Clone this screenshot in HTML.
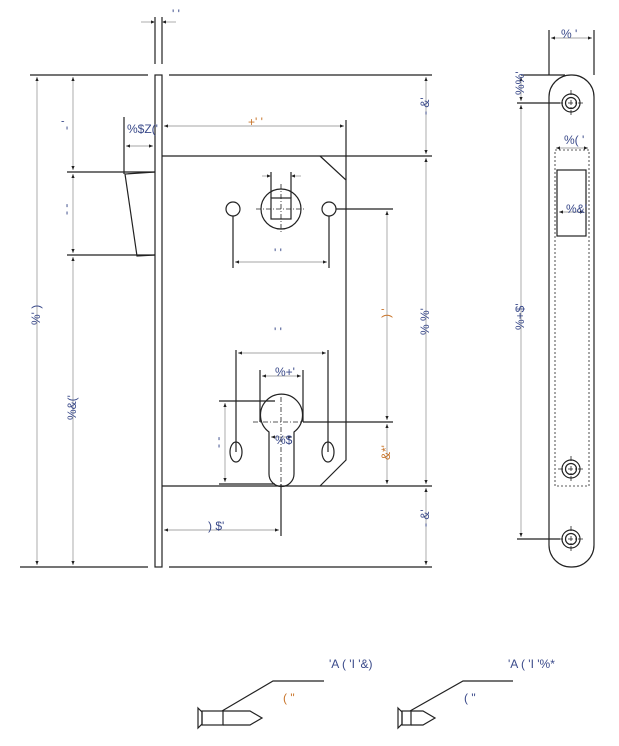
<!DOCTYPE html>
<html><head><meta charset="utf-8"><style>
html,body{margin:0;padding:0;background:#fff;}
svg{display:block;}
text{font-family:"Liberation Sans",sans-serif;font-size:12px;fill:#3a4a8a;}
.o{fill:#c8742a;}
</style></head><body>
<svg width="619" height="746" viewBox="0 0 619 746" xmlns="http://www.w3.org/2000/svg">
<defs>
<marker id="a" viewBox="0 0 10 10" refX="10" refY="5" markerWidth="6" markerHeight="6" orient="auto-start-reverse"><path d="M0,1 L10,5 L0,9 z" fill="#222"/></marker>
</defs>
<g stroke="#222" stroke-width="1.2" fill="none">
<!-- faceplate -->
<line x1="155" y1="17" x2="155" y2="64"/><line x1="162" y1="17" x2="162" y2="64"/>
<rect x="155" y="75" width="7" height="492"/>
<!-- top/bottom lines -->
<line x1="30" y1="75" x2="148" y2="75"/><line x1="169" y1="75" x2="432" y2="75"/>
<line x1="20" y1="567" x2="148" y2="567"/><line x1="169" y1="567" x2="432" y2="567"/>
<!-- case -->
<line x1="162" y1="156" x2="432" y2="156"/>
<line x1="162" y1="486" x2="432" y2="486"/>
<polyline points="320,156 346,180 346,460 320,486"/>
<line x1="346" y1="120" x2="346" y2="180"/>
<!-- latch -->
<line x1="67" y1="172" x2="155" y2="172"/><line x1="67" y1="255" x2="155" y2="255"/>
<polyline points="155,172 125,174 137,256 155,255"/>
<line x1="124" y1="117" x2="124" y2="174"/>
<!-- hub -->
<circle cx="281" cy="209" r="20"/>
<rect x="271" y="198" width="20" height="21"/>
<circle cx="233" cy="209" r="7"/><circle cx="329" cy="209" r="7"/>
<line x1="233" y1="216" x2="233" y2="268"/><line x1="329" y1="216" x2="329" y2="268"/>
<line x1="271" y1="172" x2="271" y2="198"/><line x1="291" y1="172" x2="291" y2="198"/>
<line x1="336" y1="209" x2="393" y2="209"/>
<!-- cylinder -->
<path d="M269,432 A21,21 0 1 1 294,432 L294,474 A12.5,12.5 0 0 1 269,474 Z"/>
<ellipse cx="236" cy="452" rx="6" ry="10"/><ellipse cx="328" cy="452" rx="6" ry="10"/>
<line x1="236" y1="350" x2="236" y2="452"/><line x1="328" y1="350" x2="328" y2="452"/>
<line x1="260" y1="370" x2="260" y2="422"/><line x1="303" y1="370" x2="303" y2="422"/>
<line x1="219" y1="401" x2="275" y2="401"/><line x1="219" y1="484" x2="275" y2="484"/>
<line x1="281" y1="484" x2="281" y2="536"/>
<line x1="303" y1="422" x2="393" y2="422"/>
<!-- strike plate -->
<rect x="549" y="75" width="45" height="492" rx="22"/>
<rect x="557" y="170" width="29" height="66"/>
<g><circle cx="571" cy="103" r="9"/><circle cx="571" cy="103" r="5.5"/>
<circle cx="571" cy="469" r="9"/><circle cx="571" cy="469" r="5.5"/>
<circle cx="571" cy="539" r="9"/><circle cx="571" cy="539" r="5.5"/></g>
<line x1="517" y1="103" x2="560" y2="103"/><line x1="517" y1="539" x2="560" y2="539"/>
<line x1="521" y1="75" x2="565" y2="75"/>
<line x1="549" y1="30" x2="549" y2="75"/><line x1="594" y1="30" x2="594" y2="75"/>
<!-- screws -->
<path d="M198,708 L202,712 L202,724 L198,728 Z"/><rect x="202" y="711" width="21" height="14"/>
<polyline points="223,711 250,711 262,718 250,725 223,725"/>
<polyline points="222,711 273,681 324,681"/>
<path d="M398,708 L402,712 L402,724 L398,728 Z"/><rect x="402" y="711" width="9" height="14"/>
<polyline points="411,711 423,711 435,718 423,725 411,725"/>
<polyline points="410,711 463,681 513,681"/>
</g>
<!-- centerlines & dashed -->
<g stroke="#222" stroke-width="0.8" fill="none" stroke-dasharray="5,2,1,2">
<line x1="256" y1="209" x2="306" y2="209"/><line x1="281" y1="184" x2="281" y2="234"/>
<line x1="253" y1="422" x2="308" y2="422"/><line x1="281" y1="397" x2="281" y2="486"/>
<line x1="558" y1="103" x2="584" y2="103"/><line x1="571" y1="90" x2="571" y2="116"/>
<line x1="558" y1="469" x2="584" y2="469"/><line x1="571" y1="456" x2="571" y2="482"/>
<line x1="558" y1="539" x2="584" y2="539"/><line x1="571" y1="526" x2="571" y2="552"/>
</g>
<rect x="555" y="150" width="34" height="336" fill="none" stroke="#222" stroke-width="0.8" stroke-dasharray="2,2"/>
<!-- dimension lines -->
<g stroke="#888" stroke-width="0.7" fill="none">
<line x1="37" y1="77" x2="37" y2="565" marker-start="url(#a)" marker-end="url(#a)"/>
<line x1="73" y1="77" x2="73" y2="170" marker-start="url(#a)" marker-end="url(#a)"/>
<line x1="73" y1="174" x2="73" y2="253" marker-start="url(#a)" marker-end="url(#a)"/>
<line x1="73" y1="257" x2="73" y2="565" marker-start="url(#a)" marker-end="url(#a)"/>
<line x1="426" y1="77" x2="426" y2="154" marker-start="url(#a)" marker-end="url(#a)"/>
<line x1="426" y1="158" x2="426" y2="484" marker-start="url(#a)" marker-end="url(#a)"/>
<line x1="426" y1="488" x2="426" y2="565" marker-start="url(#a)" marker-end="url(#a)"/>
<line x1="387" y1="211" x2="387" y2="420" marker-start="url(#a)" marker-end="url(#a)"/>
<line x1="387" y1="424" x2="387" y2="484" marker-start="url(#a)" marker-end="url(#a)"/>
<line x1="164" y1="126" x2="344" y2="126" marker-start="url(#a)" marker-end="url(#a)"/>
<line x1="126" y1="146" x2="153" y2="146" marker-start="url(#a)" marker-end="url(#a)"/>
<line x1="141" y1="22" x2="155" y2="22" marker-end="url(#a)"/><line x1="176" y1="22" x2="162" y2="22" marker-end="url(#a)"/>
<line x1="235" y1="262" x2="327" y2="262" marker-start="url(#a)" marker-end="url(#a)"/>
<line x1="262" y1="176" x2="271" y2="176" marker-end="url(#a)"/><line x1="301" y1="176" x2="291" y2="176" marker-end="url(#a)"/>
<line x1="238" y1="353" x2="326" y2="353" marker-start="url(#a)" marker-end="url(#a)"/>
<line x1="262" y1="376" x2="301" y2="376" marker-start="url(#a)" marker-end="url(#a)"/>
<line x1="271" y1="437" x2="292" y2="437" marker-start="url(#a)" marker-end="url(#a)"/>
<line x1="225" y1="403" x2="225" y2="482" marker-start="url(#a)" marker-end="url(#a)"/>
<line x1="164" y1="530" x2="279" y2="530" marker-start="url(#a)" marker-end="url(#a)"/>
<line x1="551" y1="38" x2="592" y2="38" marker-start="url(#a)" marker-end="url(#a)"/>
<line x1="521" y1="77" x2="521" y2="101" marker-start="url(#a)" marker-end="url(#a)"/>
<line x1="521" y1="105" x2="521" y2="537" marker-start="url(#a)" marker-end="url(#a)"/>
<line x1="556" y1="148" x2="588" y2="148" marker-start="url(#a)" marker-end="url(#a)"/>
<line x1="559" y1="212" x2="584" y2="212" marker-start="url(#a)" marker-end="url(#a)"/>
</g>
<!-- labels -->
<text x="172" y="18" font-size="9">' '</text>
<text x="248" y="126" class="o">+' '</text>
<text x="127" y="133">%$Z('</text>
<text x="274" y="257" font-size="9">' '</text>
<text x="274" y="336" font-size="9">' '</text>
<text x="275" y="376">%+'</text>
<text x="275" y="444">%$</text>
<text x="208" y="530">) $'</text>
<text x="561" y="38">% '</text>
<text x="564" y="144">%( '</text>
<text x="566" y="213">%&amp;'</text>
<text x="329" y="668">'A ( 'I '&amp;)</text>
<text x="508" y="668">'A ( 'I '%*</text>
<text x="283" y="702" class="o">(      "</text>
<text x="464" y="702">(      "</text>
<g>
<text transform="translate(40,325) rotate(-90)">%' )</text>
<text transform="translate(76,420) rotate(-90)">%&amp;('</text>
<text transform="translate(70,130) rotate(-90)">- '</text>
<text transform="translate(70,215) rotate(-90)">- -</text>
<text transform="translate(429,115) rotate(-90)">- &amp;'</text>
<text transform="translate(429,335) rotate(-90)">% %'</text>
<text transform="translate(429,527) rotate(-90)">- &amp;'</text>
<text transform="translate(390,318) rotate(-90)" class="o">) '</text>
<text transform="translate(390,460) rotate(-90)" class="o">&amp;*'</text>
<text transform="translate(222,448) rotate(-90)">- -</text>
<text transform="translate(524,95) rotate(-90)">%%'</text>
<text transform="translate(524,330) rotate(-90)">%+$'</text>
</g>
</svg>
</body></html>
